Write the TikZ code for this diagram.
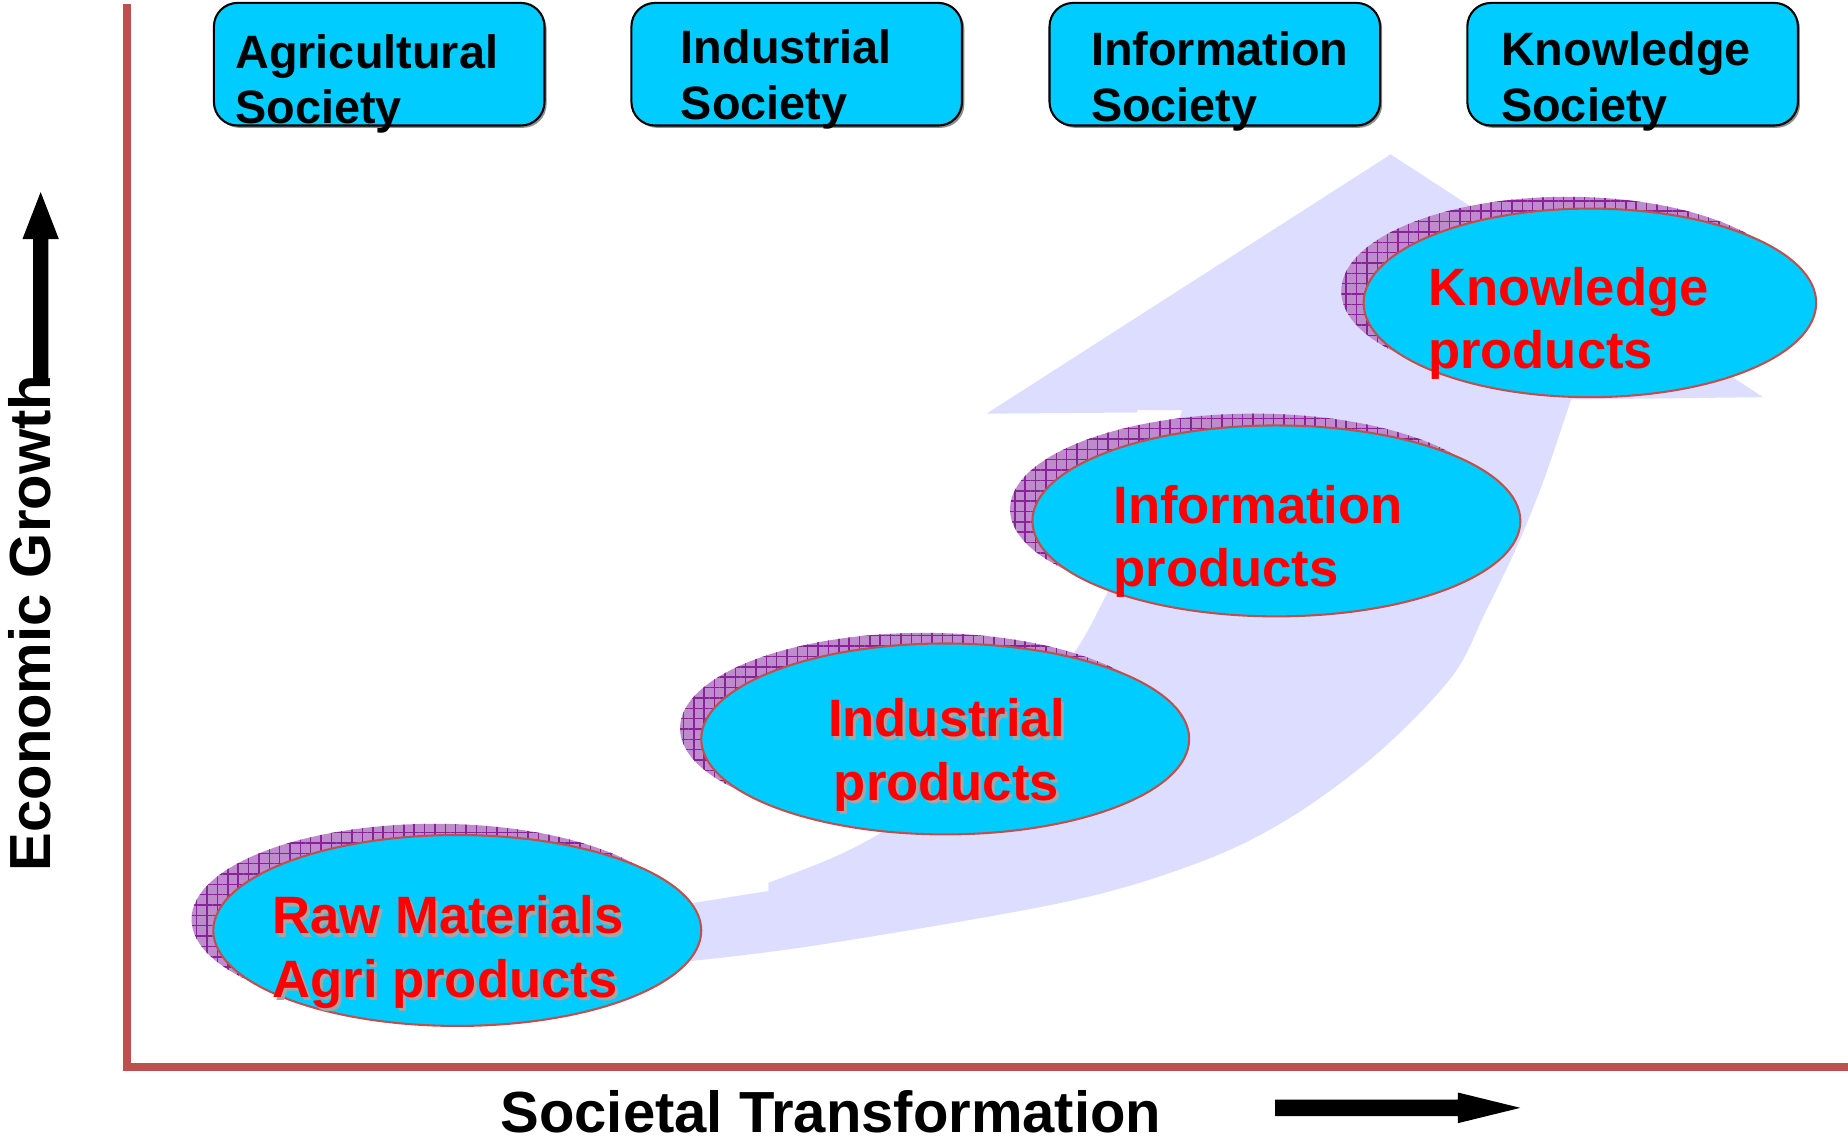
\documentclass[tikz,border=0pt]{standalone}
\usepackage{fontspec}
\setmainfont{Liberation Sans}
\usetikzlibrary{patterns.meta,shapes.geometric}
\definecolor{axisred}{RGB}{192,80,77}
\definecolor{boxcyan}{RGB}{0,204,255}
\definecolor{bandlav}{RGB}{221,221,255}
\definecolor{shadepurple}{RGB}{190,140,205}
\definecolor{gridpurple}{RGB}{135,35,150}
\definecolor{textred}{RGB}{255,0,0}
\definecolor{txtshadow}{RGB}{165,165,165}
\begin{document}
\begin{tikzpicture}[x=0.1mm,y=-0.1mm,
  societybox/.style={draw=black, line width=0.5pt, fill=boxcyan, rounded corners=2mm,
    minimum width=28.05mm, minimum height=10.4mm, inner sep=0pt},
  boxshadow/.style={fill=black!45, rounded corners=2mm,
    minimum width=28.05mm, minimum height=10.4mm, inner sep=0pt},
  boxtext/.style={anchor=base west, inner sep=0pt, align=left,
    font=\fontsize{11.3}{13.4}\selectfont\bfseries},
  prodell/.style={ellipse, draw=axisred, line width=0.5pt, fill=boxcyan, inner sep=0pt},
  prodshade/.style={ellipse, fill=shadepurple, inner sep=0pt,
    postaction={pattern={Hatch[angle=0,distance=2.5pt,line width=0.35pt]}, pattern color=gridpurple}},
  prodtext/.style={anchor=base west, inner sep=0pt, align=left, text=textred,
    font=\fontsize{12.7}{15.3}\selectfont\bfseries},
  prodtextsh/.style={prodtext, text=txtshadow},
  axislabel/.style={inner sep=0pt, font=\fontsize{14}{16}\selectfont\bfseries}
]
\useasboundingbox (0,0) rectangle (1568,970);

% axes
\draw[axisred, line width=0.68mm, line join=miter] (108,3) -- (108,905) -- (1568,905);

% big lavender arrow
\fill[bandlav]
  plot[smooth, tension=0.55] coordinates {(480,822) (580,816) (706,800) (910,764) (1022,730) (1096,693) (1169,639) (1232,574) (1261,518) (1287,464) (1310,407) (1333,339)}
  -- (1496,337) -- (1180,131) -- (837,351) -- (965,350) -- (965,348)
  -- plot[smooth, tension=0.55] coordinates {(1003,348) (985,400) (960,460) (935,512) (912,553) (868,610) (800,668) (750,705) (706,728) (652,749)}
  -- (652,756) -- (589,766) -- (480,774) -- cycle;

% society boxes
\node[boxshadow] (bsA) at (323.5,56.5) {};
\node[boxshadow] (bsB) at (678,56.5) {};
\node[boxshadow] (bsC) at (1032.5,56.5) {};
\node[boxshadow] (bsD) at (1387,56.5) {};
\node[societybox] (boxA) at (321.75,54.5) {};
\node[societybox] (boxB) at (676,54.5) {};
\node[societybox] (boxC) at (1030.75,54.5) {};
\node[societybox] (boxD) at (1385.25,54.5) {};
\node[boxtext] (tA) at (199,105) {Agricultural\\Society};
\node[boxtext] (tB) at (577,101) {Industrial\\Society};
\node[boxtext] (tC) at (925,103) {Information\\Society};
\node[boxtext] (tD) at (1273,103) {Knowledge\\Society};

% product ellipses with their shadows
\node[prodshade, minimum width=41.4mm, minimum height=16.2mm] (shRaw) at (369.5,780) {};
\node[prodell, minimum width=41.4mm, minimum height=16.2mm] (eRaw) at (388,789.5) {};
\node[prodshade, minimum width=41.4mm, minimum height=16.2mm] (shInd) at (784,618) {};
\node[prodell, minimum width=41.4mm, minimum height=16.2mm] (eInd) at (802,627) {};
\node[prodshade, minimum width=41.4mm, minimum height=16.2mm] (shInf) at (1064,432) {};
\node[prodell, minimum width=41.4mm, minimum height=16.2mm] (eInf) at (1083,442) {};
\node[prodshade, minimum width=38.4mm, minimum height=16mm] (shKno) at (1330,247) {};
\node[prodell, minimum width=38.4mm, minimum height=16mm] (eKno) at (1349,257) {};

% product texts
\node[prodtextsh] (pRawS) at (233,849) {Raw Materials\\Agri products};
\node[prodtext] (pRaw) at (230.5,846) {Raw Materials\\Agri products};
\node[prodtextsh, align=center, anchor=base] (pIndS) at (805.5,682) {Industrial\\products};
\node[prodtext, align=center, anchor=base] (pInd) at (803,679) {Industrial\\products};
\node[prodtext] (pInf) at (944,498) {Information\\products};
\node[prodtext] (pKno) at (1211,313) {Knowledge\\products};

% axis labels and arrows
\node[axislabel, rotate=90, anchor=base west] (ylab) at (43,740) {Economic Growth};
\fill (28,322) -- (28,203) -- (19,203) -- (34.5,163) -- (50,203) -- (41,203) -- (41,322) -- cycle;
\node[axislabel, anchor=base west] (xlab) at (424,961) {Societal Transformation};
\fill (1082,933) -- (1237,933) -- (1237,927) -- (1290,940) -- (1237,953) -- (1237,947) -- (1082,947) -- cycle;
\end{tikzpicture}
\end{document}
